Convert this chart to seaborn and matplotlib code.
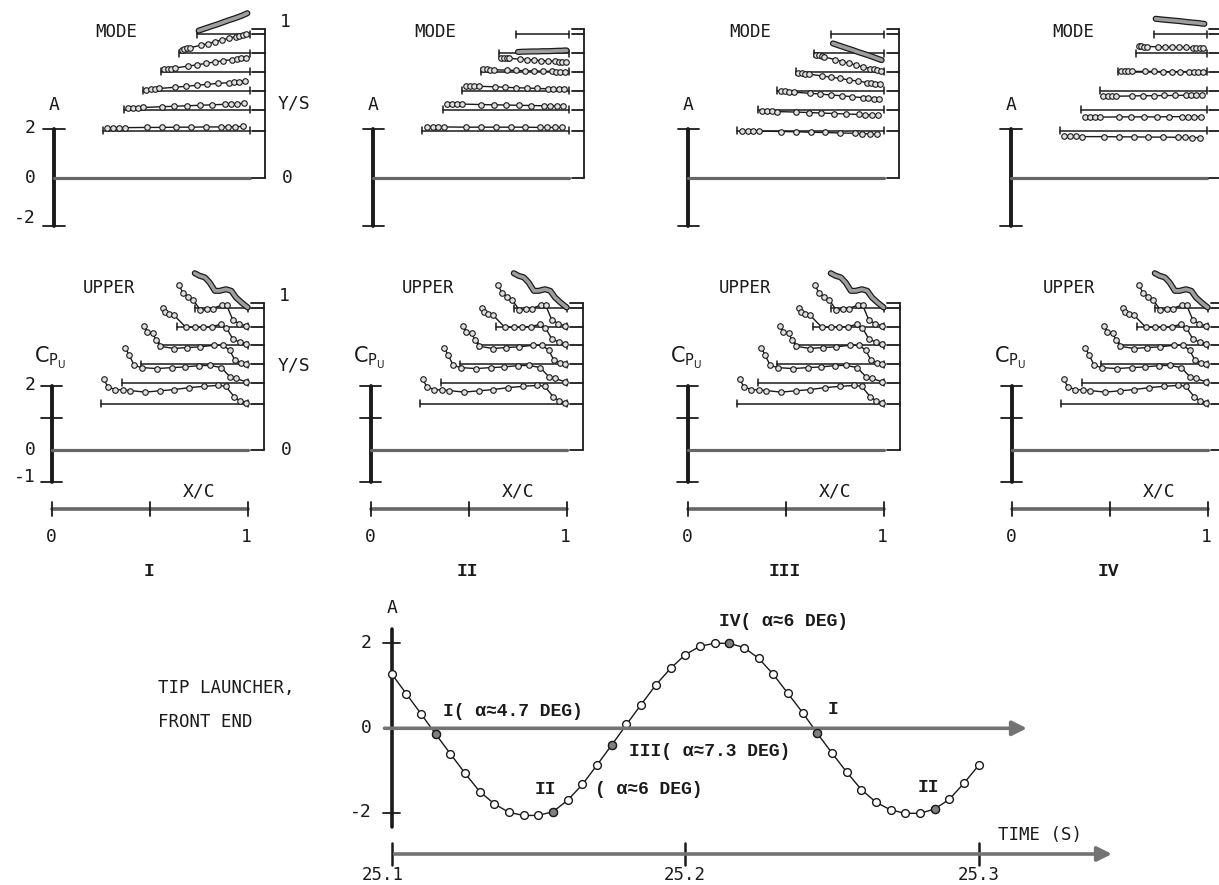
import matplotlib.pyplot as plt
import seaborn as sns

sns.set_theme(style="white")
plt.rcParams['font.family'] = ['DejaVu Sans Mono', 'DejaVu Sans']

W, H = 1219, 885

# spanwise stations (Y/S) and local leading edge (fraction of root chord)
STATION_YS = [0.316, 0.457, 0.585, 0.713, 0.84, 0.965]
STATION_LE = [0.25, 0.357, 0.455, 0.548, 0.64, 0.73]
PANELS = ['I', 'II', 'III', 'IV']

# mode shape amplitude along local chord, per station
MODE_XC = [0.03, 0.07, 0.11, 0.15, 0.3, 0.4, 0.5, 0.6, 0.7, 0.8, 0.85, 0.9, 0.95]
MODE_I = [
    [0.13, 0.13, 0.13, 0.13, 0.14, 0.14, 0.15, 0.15, 0.16, 0.16, 0.17, 0.17, 0.18],
    [0.07, 0.08, 0.09, 0.1, 0.13, 0.15, 0.17, 0.19, 0.21, 0.23, 0.24, 0.26, 0.27],
    [0.05, 0.07, 0.08, 0.1, 0.15, 0.19, 0.23, 0.27, 0.31, 0.34, 0.36, 0.38, 0.4],
    [0.1, 0.12, 0.14, 0.16, 0.24, 0.29, 0.35, 0.41, 0.46, 0.51, 0.53, 0.56, 0.58],
    [0.14, 0.17, 0.19, 0.22, 0.32, 0.39, 0.47, 0.54, 0.61, 0.68, 0.72, 0.75, 0.79],
    [0.16, 0.19, 0.22, 0.25, 0.36, 0.43, 0.51, 0.59, 0.66, 0.74, 0.78, 0.83, 0.88],
]
MODE_II = [
    [0.17, 0.17, 0.16, 0.16, 0.15, 0.15, 0.15, 0.15, 0.15, 0.14, 0.14, 0.14, 0.14],
    [0.25, 0.25, 0.24, 0.24, 0.22, 0.21, 0.2, 0.19, 0.18, 0.17, 0.17, 0.16, 0.16],
    [0.21, 0.2, 0.2, 0.19, 0.17, 0.15, 0.13, 0.12, 0.1, 0.09, 0.08, 0.07, 0.06],
    [0.1, 0.1, 0.09, 0.09, 0.07, 0.06, 0.05, 0.04, 0.03, 0.02, 0.01, 0.01, 0.0],
    [-0.19, -0.2, -0.21, -0.22, -0.25, -0.27, -0.29, -0.31, -0.32, -0.34, -0.35, -0.36, -0.37],
    [-0.72, -0.72, -0.71, -0.71, -0.7, -0.7, -0.69, -0.69, -0.68, -0.67, -0.67, -0.66, -0.66],
]
MODE_III = [
    [0.0, 0.0, -0.01, -0.01, -0.03, -0.04, -0.06, -0.07, -0.09, -0.1, -0.12, -0.13, -0.14],
    [-0.04, -0.05, -0.06, -0.07, -0.09, -0.11, -0.13, -0.15, -0.17, -0.19, -0.2, -0.21, -0.22],
    [0.0, -0.02, -0.03, -0.05, -0.1, -0.13, -0.17, -0.2, -0.24, -0.28, -0.3, -0.32, -0.34],
    [-0.03, -0.05, -0.07, -0.09, -0.17, -0.22, -0.27, -0.33, -0.38, -0.44, -0.46, -0.49, -0.51],
    [-0.07, -0.1, -0.13, -0.16, -0.27, -0.35, -0.42, -0.5, -0.57, -0.64, -0.68, -0.72, -0.76],
    [-0.37, -0.4, -0.43, -0.46, -0.57, -0.64, -0.72, -0.79, -0.86, -0.94, -0.98, -1.02, -1.06],
]
MODE_IV = [
    [-0.23, -0.23, -0.23, -0.24, -0.24, -0.25, -0.25, -0.26, -0.26, -0.27, -0.27, -0.28, -0.28],
    [-0.3, -0.3, -0.3, -0.3, -0.29, -0.29, -0.29, -0.29, -0.28, -0.28, -0.28, -0.28, -0.28],
    [-0.23, -0.23, -0.22, -0.22, -0.21, -0.2, -0.2, -0.19, -0.19, -0.18, -0.18, -0.17, -0.17],
    [0.03, 0.03, 0.02, 0.02, 0.02, 0.02, 0.01, 0.01, 0.01, 0.01, 0.0, 0.0, 0.0],
    [0.28, 0.28, 0.27, 0.27, 0.26, 0.25, 0.24, 0.24, 0.23, 0.22, 0.22, 0.21, 0.21],
    [0.65, 0.64, 0.63, 0.62, 0.59, 0.57, 0.55, 0.52, 0.5, 0.48, 0.47, 0.45, 0.44],
]
MODES = [MODE_I, MODE_II, MODE_III, MODE_IV]

# upper surface pressure (plotted as -Cp) per station
CP_XC = [
    [0.02, 0.05, 0.1, 0.15, 0.2, 0.3, 0.4, 0.5, 0.6, 0.7, 0.8, 0.85, 0.91, 0.95, 0.99],
    [0.03, 0.06, 0.1, 0.16, 0.28, 0.4, 0.5, 0.61, 0.7, 0.79, 0.86, 0.91, 0.99],
    [0.03, 0.06, 0.11, 0.14, 0.18, 0.31, 0.43, 0.55, 0.68, 0.77, 0.83, 0.88, 0.94, 0.98],
    [0.04, 0.07, 0.11, 0.17, 0.3, 0.4, 0.5, 0.6, 0.7, 0.76, 0.83, 0.91, 0.98],
    [0.03, 0.08, 0.16, 0.23, 0.33, 0.42, 0.51, 0.63, 0.7, 0.79, 0.88, 0.98],
    [0.0, 0.09, 0.19, 0.28, 0.38, 0.47, 0.59, 0.69, 0.78, 0.88, 1.0],
]
CP_VAL = [
    [0.76, 0.52, 0.44, 0.43, 0.41, 0.36, 0.4, 0.44, 0.5, 0.54, 0.57, 0.54, 0.21, 0.08, 0.02],
    [1.09, 0.86, 0.55, 0.48, 0.45, 0.48, 0.5, 0.54, 0.55, 0.48, 0.19, 0.14, 0.03],
    [1.19, 1.01, 0.96, 0.77, 0.56, 0.49, 0.52, 0.54, 0.59, 0.59, 0.44, 0.13, 0.04, 0.02],
    [1.18, 1.04, 0.99, 0.94, 0.57, 0.57, 0.57, 0.59, 0.66, 0.55, 0.21, 0.1, 0.03],
    [1.3, 1.06, 0.94, 0.83, 0.52, 0.54, 0.57, 0.68, 0.68, 0.21, 0.1, 0.02],
    [1.1, 1.02, 0.97, 0.81, 0.55, 0.55, 0.6, 0.55, 0.34, 0.19, 0.03],
]

# tip launcher front end amplitude history
TIME = [25.100, 25.105, 25.110, 25.115, 25.120, 25.125, 25.130, 25.135, 25.140,
        25.145, 25.150, 25.155, 25.160, 25.165, 25.170, 25.175, 25.180, 25.185,
        25.190, 25.195, 25.200, 25.205, 25.210, 25.215, 25.220, 25.225, 25.230,
        25.235, 25.240, 25.245, 25.250, 25.255, 25.260, 25.265, 25.270, 25.275,
        25.280, 25.285, 25.290, 25.295, 25.300]
AMP = [1.28, 0.81, 0.34, -0.14, -0.6, -1.06, -1.49, -1.78, -1.98, -2.05, -2.05,
       -1.96, -1.69, -1.32, -0.86, -0.39, 0.09, 0.56, 1.02, 1.41, 1.73, 1.93,
       2.0, 2.0, 1.9, 1.65, 1.27, 0.82, 0.37, -0.12, -0.58, -1.03, -1.44, -1.74,
       -1.92, -2.0, -2.0, -1.9, -1.67, -1.29, -0.87]
SNAP_IDX = [3, 11, 15, 23, 29, 37]

fig = plt.figure(figsize=(W / 100, H / 100), dpi=100)
fig.patch.set_facecolor('white')

MONO = 'DejaVu Sans Mono'
SERIF = 'Liberation Mono'


def ftext(px, py, s, size=12.5, ha='center', family=MONO, weight='normal', **kw):
    fig.text(px / W, 1 - py / H, s, fontsize=size, ha=ha, va='center',
             family=family, weight=weight, color='k', **kw)


def panel_axes(ox, oy, sx, sy, x0=0.0, left=60, right=240, up=180, down=80):
    ax = fig.add_axes([(ox - left) / W, 1 - (oy + down) / H,
                       (left + right) / W, (up + down) / H])
    ax.set_xlim(x0 - left / sx, x0 + right / sx, auto=False)
    ax.set_ylim(-down / sy, up / sy, auto=False)
    ax.set_axis_off()
    ax.patch.set_alpha(0)
    return ax


def thick_gray(ax, xs, ys):
    sns.lineplot(x=xs, y=ys, ax=ax, color='k', lw=4.4, estimator=None, sort=False)
    sns.lineplot(x=xs, y=ys, ax=ax, color='0.62', lw=2.6, estimator=None, sort=False)


def marked(ax, xs, ys):
    sns.lineplot(x=xs, y=ys, ax=ax, color='k', lw=1.0, estimator=None, sort=False,
                 marker='o', markersize=4.0, markerfacecolor='0.88',
                 markeredgecolor='k', markeredgewidth=0.8)


def stations(ax, ys_scale, bx):
    ax.plot([bx, bx], [0, ys_scale], color='k', lw=1.3)
    for ys in [0] + STATION_YS + [1]:
        ax.plot([bx - 0.065, bx], [ys * ys_scale] * 2, color='k', lw=1.3)
    for i in range(6):
        le = STATION_LE[i]
        base = STATION_YS[i] * ys_scale
        ax.plot([le, 1], [base, base], color='k', lw=1.1)
        for xe in (le, 1):
            ax.plot([xe, xe], [base - 3.5 / ax.sy, base + 3.5 / ax.sy], color='k', lw=1.1)


# ---------------- MODE panels ----------------
TOP_OX = [54, 373.3, 688.3, 1011]
TOP_OY = 177.7
TOP_SY = 24.2
TOP_YS = 148.4 / TOP_SY
for k, ox in enumerate(TOP_OX):
    ax = panel_axes(ox, TOP_OY, 196, TOP_SY, left=60, right=230, up=177, down=60)
    ax.sy = TOP_SY
    ax.plot([0, 0], [-2, 2], color='k', lw=2.8)
    for v in (2, -2):
        ax.plot([-0.055, 0.055], [v, v], color='k', lw=1.3)
    ax.plot([0, 1], [0, 0], color='0.4', lw=2.3)
    stations(ax, TOP_YS, 211 / 196)
    for i in range(6):
        le = STATION_LE[i]
        base = STATION_YS[i] * TOP_YS
        xs = [le + xc * (1 - le) for xc in MODE_XC]
        ys = [base + v for v in MODES[k][i]]
        if i == 5:
            thick_gray(ax, xs, ys)
        else:
            marked(ax, xs, ys)
    ftext(ox + 62, 32, 'MODE')
    ftext(ox, 105, 'A', size=13)

ftext(30, 128, '2', size=13)
ftext(30, 178, '0', size=13)
ftext(25, 218, '-2', size=13)
ftext(285, 22, '1', size=13)
ftext(278, 103, 'Y/S', ha='left', size=13)
ftext(287, 178, '0', size=13)

# ---------------- UPPER Cp panels ----------------
BOT_OX = [51.7, 370.7, 687.7, 1011.7]
BOT_OY = 450
BOT_SY = 32.0
BOT_YS = 146.7 / BOT_SY
for k, ox in enumerate(BOT_OX):
    ax = panel_axes(ox, BOT_OY, 196, BOT_SY, left=60, right=230, up=190, down=80)
    ax.sy = BOT_SY
    ax.plot([0, 0], [-1, 2], color='k', lw=2.8)
    for v in (2, 1, -1):
        ax.plot([-0.055, 0.055], [v, v], color='k', lw=1.3)
    ax.plot([0, 1], [0, 0], color='0.4', lw=2.3)
    stations(ax, BOT_YS, 212 / 196)
    for i in range(6):
        le = STATION_LE[i]
        base = STATION_YS[i] * BOT_YS
        xs = [le + xc * (1 - le) for xc in CP_XC[i]]
        ys = [base + v for v in CP_VAL[i]]
        if i == 5:
            thick_gray(ax, xs, ys)
        else:
            marked(ax, xs, ys)
    # X/C scale bar
    yb = -59.3 / BOT_SY
    ax.plot([0, 1], [yb, yb], color='0.4', lw=2.6)
    for xt in (0, 0.5, 1):
        ax.plot([xt, xt], [yb - 0.22, yb + 0.22], color='k', lw=1.3)
    ftext(ox + 57, 288, 'UPPER')
    ftext(ox - 2, 358, r'$\mathregular{C_{P_U}}$', size=15, family='DejaVu Sans')
    ftext(ox + 147, 492, 'X/C', size=13)
    ftext(ox, 537, '0', size=13)
    ftext(ox + 195, 537, '1', size=13)
    ftext(ox + 97, 571, PANELS[k], size=13, family=SERIF, weight='bold')

ftext(30, 385, '2', size=13)
ftext(30, 450, '0', size=13)
ftext(25, 477, '-1', size=13)
ftext(284, 296, '1', size=13)
ftext(278, 365, 'Y/S', ha='left', size=13)
ftext(286, 450, '0', size=13)

# ---------------- time history ----------------
T_OX, T_OY, T_SX, T_SY = 391.7, 728.3, 2935.0, 42.5
ax = panel_axes(T_OX, T_OY, T_SX, T_SY, x0=25.1, left=30, right=760, up=110, down=150)
t0 = TIME[0]
ax.plot([t0, t0], [-2.32, 2.34], color='k', lw=2.6)
for v in (2, -2):
    ax.plot([t0 - 0.0028, t0 + 0.0028], [v, v], color='k', lw=1.3)
ax.annotate('', xy=(t0 + 638 / T_SX, 0), xytext=(t0 - 10 / T_SX, 0),
            arrowprops=dict(arrowstyle='-|>', color='0.45', lw=2.6, mutation_scale=22))
y_ax = -125.7 / T_SY
ax.annotate('', xy=(t0 + 723 / T_SX, y_ax), xytext=(t0, y_ax),
            arrowprops=dict(arrowstyle='-|>', color='0.45', lw=2.6, mutation_scale=22))
for tt in (25.1, 25.2, 25.3):
    ax.plot([tt, tt], [y_ax - 0.25, y_ax + 0.25], color='k', lw=1.8)

sns.lineplot(x=TIME, y=AMP, ax=ax, color='k', lw=1.0, estimator=None, sort=False,
             marker='o', markersize=5.6, markerfacecolor='white',
             markeredgecolor='k', markeredgewidth=1.0)
sns.scatterplot(x=[TIME[i] for i in SNAP_IDX], y=[AMP[i] for i in SNAP_IDX], ax=ax,
                s=34, color='0.5', edgecolor='k', linewidth=1.0, zorder=5)

ftext(392, 608, 'A', size=13)
ftext(372, 643, '2', size=13, ha='right')
ftext(372, 728, '0', size=13, ha='right')
ftext(372, 812, '-2', size=13, ha='right')
ftext(158, 688, 'TIP LAUNCHER,', ha='left')
ftext(158, 722, 'FRONT END', ha='left')
ftext(443, 712, 'I( α≈4.7 DEG)', ha='left', size=13, family=SERIF, weight='bold')
ftext(545, 790, 'II', size=13, family=SERIF, weight='bold')
ftext(595, 790, '( α≈6 DEG)', ha='left', size=13, family=SERIF, weight='bold')
ftext(629, 752, 'III( α≈7.3 DEG)', ha='left', size=13, family=SERIF, weight='bold')
ftext(719, 622, 'IV( α≈6 DEG)', ha='left', size=13, family=SERIF, weight='bold')
ftext(833, 710, 'I', size=13, family=SERIF, weight='bold')
ftext(928, 788, 'II', size=13, family=SERIF, weight='bold')
ftext(998, 835, 'TIME (S)', ha='left')
ftext(383, 875, '25.1')
ftext(685, 875, '25.2')
ftext(979, 875, '25.3')

fig.savefig('out.png', dpi=100, facecolor='white')
